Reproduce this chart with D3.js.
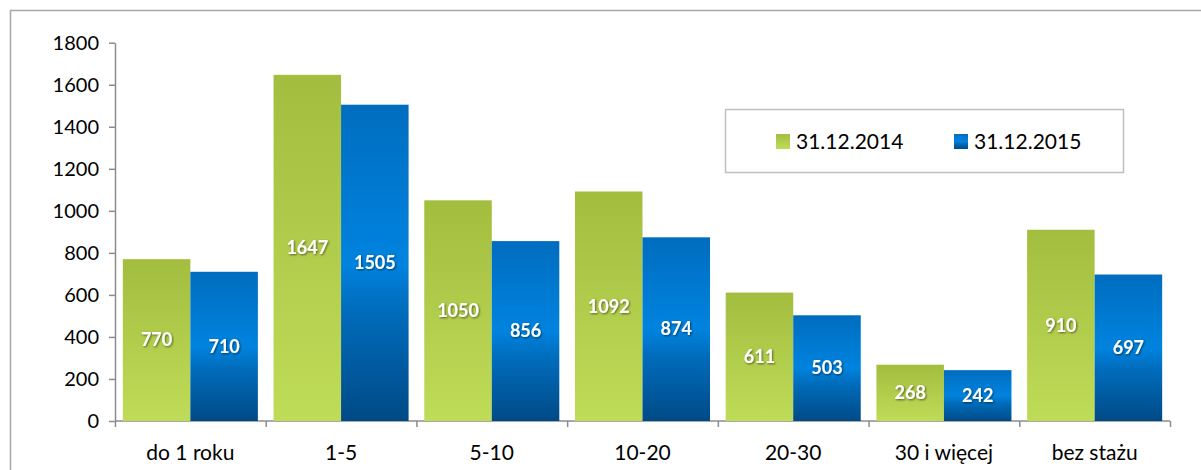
<!DOCTYPE html>
<html><head><meta charset="utf-8">
<script src="https://cdn.jsdelivr.net/npm/d3@7"></script>
<style>body{margin:0;background:#fff}svg{display:block}</style>
</head><body>
<script>
const categories = ["do 1 roku","1-5","5-10","10-20","20-30","30 i więcej","bez stażu"];
const seriesNames = ["31.12.2014","31.12.2015"];
const values2014 = [770,1647,1050,1092,611,268,910];
const values2015 = [710,1505,856,874,503,242,697];
const yTicks = [0,200,400,600,800,1000,1200,1400,1600,1800];

const W=1201,H=470;
const svg=d3.select("body").append("svg").attr("width",W).attr("height",H);
const font="Lato, 'Open Sans', sans-serif";
const defs=svg.append("defs");
const gg=defs.append("linearGradient").attr("id","gGreen").attr("x1",0).attr("y1",0).attr("x2",0).attr("y2",1);
gg.append("stop").attr("offset","0").attr("stop-color","#a3bd3f");
gg.append("stop").attr("offset","1").attr("stop-color","#bfdc58");
const gb=defs.append("linearGradient").attr("id","gBlue").attr("x1",0).attr("y1",0).attr("x2",0).attr("y2",1);
gb.append("stop").attr("offset","0").attr("stop-color","#006dbf");
gb.append("stop").attr("offset","0.5").attr("stop-color","#0083df");
gb.append("stop").attr("offset","0.65").attr("stop-color","#006cbb");
gb.append("stop").attr("offset","1").attr("stop-color","#004a86");
const f=defs.append("filter").attr("id","sh").attr("x","-20%").attr("y","-20%").attr("width","140%").attr("height","140%");
f.append("feDropShadow").attr("dx",1).attr("dy",1).attr("stdDeviation",0.8).attr("flood-color","#000").attr("flood-opacity",0.55);

// outer border
svg.append("rect").attr("x",10.5).attr("y",10.5).attr("width",1200).attr("height",470)
  .attr("fill","none").attr("stroke","#a6a6a6").attr("stroke-width",1.5);

const x0=d3.scaleBand().domain(categories).range([115,1170]).paddingInner(0.104).paddingOuter(0.052);
const x1=d3.scaleBand().domain(seriesNames).range([0,x0.bandwidth()]);
const y=d3.scaleLinear().domain([0,1800]).range([421,42.7]);

const series=[values2014,values2015];
const fills=["url(#gGreen)","url(#gBlue)"];

const gx=svg.append("g").attr("transform","translate(0,421)")
  .call(d3.axisBottom(d3.scalePoint().domain(d3.range(8)).range([115,1170])).tickSize(6).tickFormat(""));
gx.selectAll("path,line").attr("stroke","#8c8c8c").attr("stroke-width",1.5);
gx.select("path").attr("d","M115,0H1170");

const gy=svg.append("g").attr("transform","translate(115,0)")
  .call(d3.axisLeft(y).tickValues(yTicks).tickSize(6).tickSizeOuter(0).tickPadding(10).tickFormat(d3.format("d")));
gy.selectAll("path,line").attr("stroke","#8c8c8c").attr("stroke-width",1.5);
gy.selectAll("text").attr("font-family",font).attr("font-size",20).attr("fill","#000");

series.forEach((vals,si)=>{
  const g=svg.append("g");
  g.selectAll("rect").data(categories).join("rect")
    .attr("x",c=>x0(c)+x1(seriesNames[si]))
    .attr("width",x1.bandwidth())
    .attr("y",(c,i)=>y(vals[i]))
    .attr("height",(c,i)=>y(0)-y(vals[i]))
    .attr("fill",fills[si]);
  g.selectAll("text").data(categories).join("text")
    .attr("x",c=>x0(c)+x1(seriesNames[si])+x1.bandwidth()/2)
    .attr("y",(c,i)=>(y(0)+y(vals[i]))/2)
    .attr("dy","0.35em")
    .attr("text-anchor","middle")
    .attr("font-family",font).attr("font-weight","bold").attr("font-size",18)
    .attr("fill","#fff").attr("filter","url(#sh)")
    .text((c,i)=>vals[i]);
});

svg.append("g").selectAll("text").data(categories).join("text")
  .attr("x",c=>x0(c)+x0.bandwidth()/2).attr("y",453).attr("dy","0.35em")
  .attr("text-anchor","middle").attr("font-family",font).attr("font-size",21).attr("fill","#000")
  .text(c=>c);

// legend
const lg=svg.append("g");
lg.append("rect").attr("x",725.5).attr("y",109.5).attr("width",398).attr("height",63)
  .attr("fill","#fff").attr("stroke","#bfbfbf").attr("stroke-width",1.5);
const lx=[776,954];
seriesNames.forEach((n,i)=>{
  lg.append("rect").attr("x",lx[i]).attr("y",134).attr("width",14).attr("height",15).attr("fill",fills[i]);
  lg.append("text").attr("x",lx[i]+20).attr("y",142).attr("dy","0.35em")
    .attr("font-family",font).attr("font-size",21).attr("fill","#000").text(n);
});
</script>
</body></html>
